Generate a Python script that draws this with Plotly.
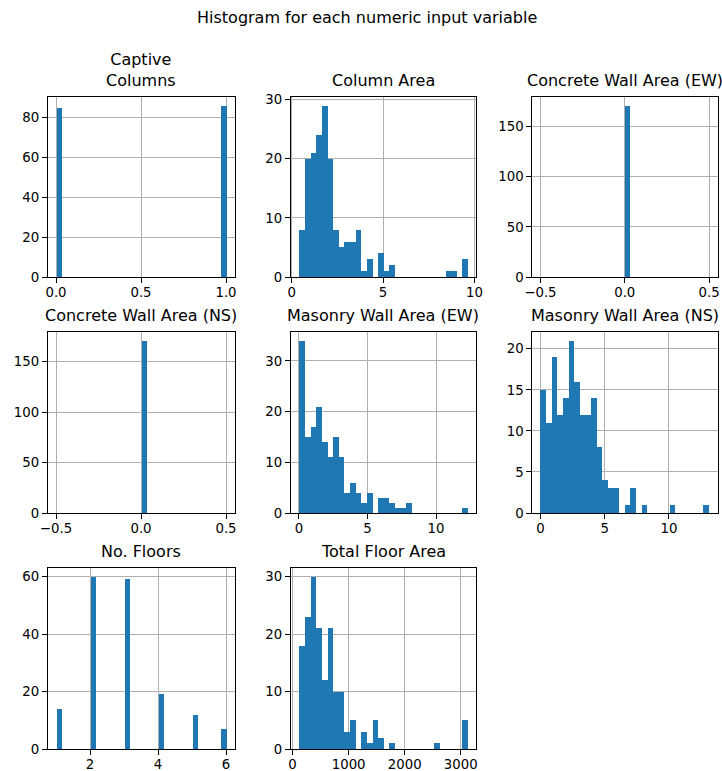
import plotly.graph_objects as go

W, H = 722, 771

# ---- data: counts per bin (30 bins) and the bin range (min, max) of each variable ----
titles = ["Captive<br>Columns", "Column Area", "Concrete Wall Area (EW)",
          "Concrete Wall Area (NS)", "Masonry Wall Area (EW)", "Masonry Wall Area (NS)",
          "No. Floors", "Total Floor Area"]

captive_counts = [85] + [0] * 28 + [86]
captive_range = (0.0, 1.0)

column_area_counts = [8, 20, 21, 24, 29, 20, 8, 5, 6, 6, 8, 1, 3, 0, 4, 1, 2,
                      0, 0, 0, 0, 0, 0, 0, 0, 0, 1, 1, 0, 3]
column_area_range = (0.4, 9.62)

concrete_ew_counts = [0] * 15 + [171] + [0] * 14
concrete_ew_range = (-0.5, 0.5)

concrete_ns_counts = [0] * 15 + [171] + [0] * 14
concrete_ns_range = (-0.5, 0.5)

masonry_ew_counts = [34, 15, 17, 21, 14, 11, 15, 11, 4, 6, 4, 2, 4, 0, 3, 3, 2, 1, 1, 2,
                     0, 0, 0, 0, 0, 0, 0, 0, 0, 1]
masonry_ew_range = (0.0, 12.3)

masonry_ns_counts = [15, 11, 19, 12, 14, 21, 16, 12, 12, 14, 8, 4, 3, 3, 0, 1, 3, 0, 1, 0,
                     0, 0, 0, 1, 0, 0, 0, 0, 0, 1]
masonry_ns_range = (0.0, 13.13)

floors_counts = [14, 0, 0, 0, 0, 0, 60, 0, 0, 0, 0, 0, 59, 0, 0, 0, 0, 0, 19, 0,
                 0, 0, 0, 0, 12, 0, 0, 0, 0, 7]
floors_range = (1.0, 6.0)

floor_area_counts = [18, 23, 30, 21, 12, 21, 10, 10, 3, 5, 0, 3, 1, 5, 2, 0, 1, 0, 0, 0,
                     0, 0, 0, 0, 1, 0, 0, 0, 0, 5]
floor_area_range = (113.0, 3121.0)

x_tickvals = [[0, 0.5, 1], [0, 5, 10], [-0.5, 0, 0.5], [-0.5, 0, 0.5],
              [0, 5, 10], [0, 5, 10], [2, 4, 6], [0, 1000, 2000, 3000]]
x_ticktext = [["0.0", "0.5", "1.0"], ["0", "5", "10"], ["\u22120.5", "0.0", "0.5"],
              ["\u22120.5", "0.0", "0.5"], ["0", "5", "10"], ["0", "5", "10"],
              ["2", "4", "6"], ["0", "1000", "2000", "3000"]]
y_tickvals = [[0, 20, 40, 60, 80], [0, 10, 20, 30], [0, 50, 100, 150], [0, 50, 100, 150],
              [0, 10, 20, 30], [0, 5, 10, 15, 20], [0, 20, 40, 60], [0, 10, 20, 30]]

all_counts = [captive_counts, column_area_counts, concrete_ew_counts, concrete_ns_counts,
              masonry_ew_counts, masonry_ns_counts, floors_counts, floor_area_counts]
all_ranges = [captive_range, column_area_range, concrete_ew_range, concrete_ns_range,
              masonry_ew_range, masonry_ns_range, floors_range, floor_area_range]

# ---- layout geometry (pixels) ----
col_px = [(47.5, 234.5), (290.5, 476.0), (532.0, 717.5)]
row_px = [(97.0, 277.0), (332.0, 513.0), (568.0, 749.0)]

FONT = "DejaVu Sans"
BLUE = "#1f77b4"

fig = go.Figure()
layout = dict(
    template="none",
    width=W, height=H,
    margin=dict(l=0, r=0, t=0, b=0, pad=0, autoexpand=False),
    paper_bgcolor="white", plot_bgcolor="white",
    showlegend=False, bargap=0,
    font=dict(family=FONT, size=13.3, color="black"),
)
annotations = []

for i, (counts, (lo, hi)) in enumerate(zip(all_counts, all_ranges)):
    r, c = divmod(i, 3)
    n = len(counts)
    w = (hi - lo) / n
    centers = [lo + (k + 0.5) * w for k in range(n)]
    ax = "" if i == 0 else str(i + 1)
    fig.add_trace(go.Bar(
        x=centers, y=counts, width=[w] * n,
        marker=dict(color=BLUE, line=dict(width=0)),
        xaxis="x" + ax, yaxis="y" + ax, hoverinfo="x+y",
    ))
    pad = 0.05 * (hi - lo)
    ymax = max(counts) * 1.05
    x0, x1 = col_px[c]
    y0, y1 = row_px[r]
    common = dict(
        automargin=False,
        showline=True, linecolor="black", linewidth=1, mirror=True,
        showgrid=True, gridcolor="#b0b0b0", gridwidth=1,
        zeroline=False, ticks="outside", ticklen=4.7, tickwidth=1, tickcolor="black",
        tickfont=dict(family=FONT, size=13.3, color="black"),
        layer="above traces", fixedrange=True,
    )
    layout["xaxis" + ax] = dict(
        common, domain=[x0 / W, x1 / W], anchor="y" + ax,
        range=[lo - pad, hi + pad], tickvals=x_tickvals[i], ticktext=x_ticktext[i],
        ticklabelstandoff=-2,
    )
    layout["yaxis" + ax] = dict(
        common, domain=[1 - y1 / H, 1 - y0 / H], anchor="x" + ax,
        range=[0, ymax], tickvals=y_tickvals[i],
    )
    annotations.append(dict(
        text=titles[i], x=(x0 + x1) / 2 / W, y=1 - (y0 - 5) / H,
        xref="paper", yref="paper", xanchor="center", yanchor="bottom",
        showarrow=False, font=dict(family=FONT, size=16, color="black"),
    ))

annotations.append(dict(
    text="Histogram for each numeric input variable",
    x=367 / W, y=1 - 17 / H, xref="paper", yref="paper",
    xanchor="center", yanchor="middle", showarrow=False,
    font=dict(family=FONT, size=16, color="black"),
))
layout["annotations"] = annotations
fig.update_layout(**layout)
fig.write_html(
    "out.html",
    config={"displayModeBar": False},
    post_script="document.body.style.margin='0';document.body.style.overflow='hidden';",
)
